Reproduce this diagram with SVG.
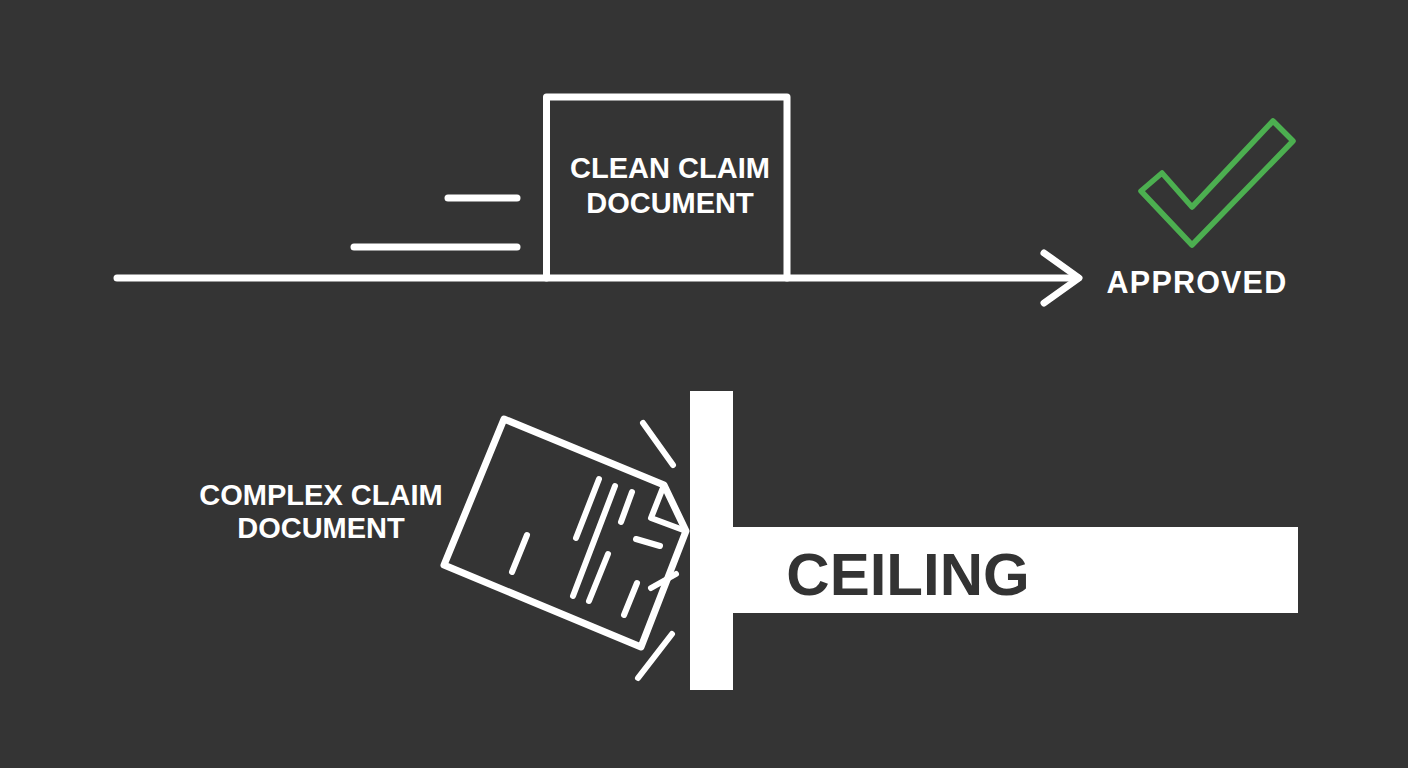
<svg xmlns="http://www.w3.org/2000/svg" width="1408" height="768" viewBox="0 0 1408 768">
  <defs>
    <style>
      .ln { stroke: #ffffff; stroke-width: 7; stroke-linecap: round; stroke-linejoin: round; fill: none; }
      .thin { stroke: #ffffff; stroke-width: 6; stroke-linecap: round; stroke-linejoin: round; fill: none; }
      .lbl { font-family: "Liberation Sans", Arial, sans-serif; font-weight: bold; fill: #ffffff; text-anchor: middle; }
    </style>
  </defs>
  <rect x="0" y="0" width="1408" height="768" fill="#343434"/>

  <g id="connectors">
    <line class="ln" x1="117" y1="278" x2="1078" y2="278"/>
    <polyline class="ln" points="1044,253 1079,278 1044,303"/>
  </g>

  <g id="speed-lines">
    <line class="ln" x1="448" y1="198" x2="517" y2="198"/>
    <line class="ln" x1="354" y1="247" x2="517" y2="247"/>
  </g>

  <g id="clean-claim">
    <polyline class="ln" points="546.5,278 546.5,97 787,97 787,278" stroke-linecap="butt" stroke-linejoin="miter"/>
    <text class="lbl" x="670" y="178" font-size="29">CLEAN CLAIM</text>
    <text class="lbl" x="670" y="213" font-size="29">DOCUMENT</text>
  </g>

  <g id="approved">
    <polygon points="1141,191 1162,173 1192,207 1273,121 1293,141 1192,245" fill="none" stroke="#4caf50" stroke-width="5.5" stroke-linejoin="round"/>
    <text class="lbl" x="1197" y="293" font-size="30.5" letter-spacing="1.2">APPROVED</text>
  </g>

  <g id="ceiling">
    <rect x="690" y="391" width="43" height="299" fill="#ffffff"/>
    <rect x="690" y="527" width="608" height="86" fill="#ffffff"/>
    <text x="908" y="595" font-family="Liberation Sans, Arial, sans-serif" font-weight="bold" font-size="60" fill="#333333" text-anchor="middle">CEILING</text>
  </g>

  <g id="complex-claim">
    <polygon class="ln" points="504,419 664,485 686,531 641,647 444,565"/>
    <polyline class="thin" points="664,485 651,518 686,531"/>
    <line class="thin" x1="599" y1="479" x2="576" y2="538"/>
    <line class="thin" x1="615" y1="486" x2="573" y2="596"/>
    <line class="thin" x1="632" y1="492" x2="621" y2="522"/>
    <line class="thin" x1="608" y1="554" x2="589" y2="601"/>
    <line class="thin" x1="636" y1="539" x2="660" y2="546"/>
    <line class="thin" x1="637" y1="583" x2="624" y2="615"/>
    <line class="thin" x1="651" y1="588" x2="676" y2="574"/>
    <line class="thin" x1="527" y1="535" x2="512" y2="572"/>
    <text class="lbl" x="321" y="505" font-size="29">COMPLEX CLAIM</text>
    <text class="lbl" x="321" y="538" font-size="29">DOCUMENT</text>
  </g>

  <g id="impact-lines">
    <line class="thin" x1="643" y1="423" x2="673" y2="465"/>
    <line class="thin" x1="672" y1="634" x2="638" y2="678"/>
  </g>
</svg>
